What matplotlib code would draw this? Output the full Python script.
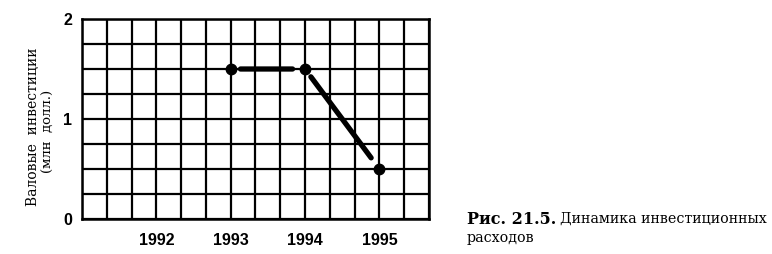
import matplotlib.pyplot as plt
import numpy as np

# Data
years = [1993, 1994, 1995]
invest = [1.5, 1.5, 0.5]
year_ticks = [1992, 1993, 1994, 1995]
y_ticks = [0, 1, 2]

fig = plt.figure(figsize=(7.72, 2.54), dpi=100)
ax = fig.add_axes((82 / 772, 35 / 254, 347 / 772, 200 / 254))

# Grid: 14 x 8 cells, a year is 3 cells
ax.set_xlim(1991, 1991 + 14 / 3)
ax.set_ylim(0, 2)
ax.set_xticks(np.arange(1991, 1991 + 14 / 3 + 0.01, 1 / 3), minor=True)
ax.set_yticks(np.arange(0, 2.01, 0.25), minor=True)
ax.grid(which="both", color="black", linewidth=1.6)
ax.set_axisbelow(True)
for s in ax.spines.values():
    s.set_linewidth(1.8)

ax.set_xticks(year_ticks)
ax.set_yticks(y_ticks)
ax.set_xticklabels([str(y) for y in year_ticks], family="Liberation Sans",
                   fontweight="bold", fontsize=11.5)
ax.set_yticklabels([str(v) for v in y_ticks], family="Liberation Sans",
                   fontweight="bold", fontsize=11.5)
ax.tick_params(which="both", length=0)
ax.tick_params(axis="x", pad=10)
ax.tick_params(axis="y", pad=7)

# points and separated thick segments
ax.plot(years, invest, "o", color="black", markersize=7.5, zorder=5)
shrinks = [(7, 9), (7, 10)]
for i in range(len(years) - 1):
    ax.annotate("", xy=(years[i + 1], invest[i + 1]), xytext=(years[i], invest[i]),
                arrowprops=dict(arrowstyle="-", color="black", lw=3.8,
                                shrinkA=shrinks[i][0], shrinkB=shrinks[i][1]),
                zorder=4)

# y label, two lines
fig.text(33 / 772, 1 - 127 / 254, "Валовые  инвестиции", rotation=90,
         ha="center", va="center", family="DejaVu Serif", fontsize=10)
fig.text(48 / 772, 1 - 131 / 254, "(млн  долл.)", rotation=90,
         ha="center", va="center", family="DejaVu Serif", fontsize=9.5)

# caption
t1 = fig.text(467 / 772, 1 - 219 / 254, "Рис. 21.5.", ha="left", va="center",
              family="DejaVu Serif", fontweight="bold", fontsize=11.5)
fig.canvas.draw()
bb = t1.get_window_extent(fig.canvas.get_renderer())
fig.text(bb.x1 / 772 + 4 / 772, 1 - 219 / 254, "Динамика инвестиционных", ha="left",
         va="center", family="DejaVu Serif", fontsize=10.3)
fig.text(467 / 772, 1 - 238 / 254, "расходов", ha="left", va="center",
         family="DejaVu Serif", fontsize=10.3)

fig.savefig("out.png", dpi=100)
